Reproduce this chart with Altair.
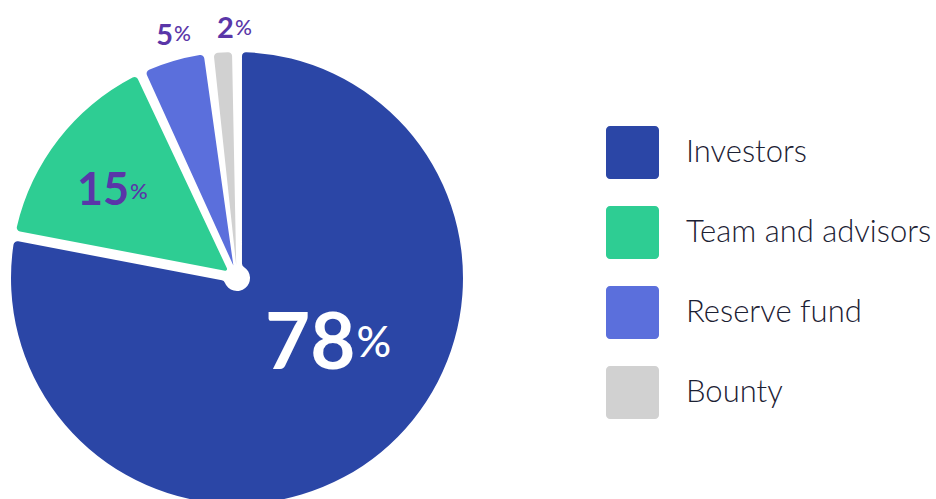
import altair as alt
import pandas as pd

# ---- data ----
categories = ["Investors", "Team and advisors", "Reserve fund", "Bounty"]
shares = [78, 15, 5, 2]
number_labels = ["78", "15", "5", "2"]
colors = ["#2b46a6", "#2ecd93", "#5b6fdc", "#d1d1d1"]

df = pd.DataFrame({"category": categories, "share": shares, "num": number_labels})

CX, CY = 237, 278
PURPLE = "#5a36a8"

rounded_square = ("M-1,-0.85 C-1,-0.93 -0.93,-1 -0.85,-1 L0.85,-1 C0.93,-1 1,-0.93 1,-0.85 "
                  "L1,0.85 C1,0.93 0.93,1 0.85,1 L-0.85,1 C-0.93,1 -1,0.93 -1,0.85 Z")

base = alt.Chart(df).encode(
    theta=alt.Theta("share:Q", stack=True),
    order=alt.Order("share:Q", sort="descending"),
    x=alt.value(CX),
    y=alt.value(CY),
)

pie = base.mark_arc(
    outerRadius=226, innerRadius=13, padAngle=0.044, cornerRadius=4, clip=True
).encode(
    color=alt.Color(
        "category:N",
        scale=alt.Scale(domain=categories, range=colors),
        legend=alt.Legend(
            title=None, orient="none", legendX=606, legendY=126, padding=0,
            symbolType=rounded_square, symbolSize=2809, symbolStrokeWidth=0,
            symbolOpacity=1, labelFont="Lato", labelFontSize=31, labelFontWeight=300,
            labelColor="#1c2133", labelOffset=27, rowPadding=27, labelLimit=400,
        ),
    )
)


def label_pair(cat, radius, dx, dy, num_size, pct_size, pct_dy, color):
    pred = alt.datum.category == cat
    num = base.mark_text(
        radius=radius, dx=dx, dy=dy, align="right", baseline="alphabetic",
        font="Lato", fontWeight=700, fontSize=num_size, color=color,
    ).encode(
        detail="category:N",
        text=alt.condition(pred, alt.Text("num:N"), alt.value("")),
    )
    pct = base.mark_text(
        radius=radius, dx=dx + 1, dy=dy + pct_dy, align="left", baseline="alphabetic",
        font="Lato", fontWeight=500, fontSize=pct_size, color=color,
    ).encode(
        detail="category:N",
        text=alt.condition(pred, alt.value("%"), alt.value("")),
    )
    return [num, pct]


layers = [pie]
layers += label_pair("Investors", 120, 42, -1.5, 78, 43, -12, "#ffffff")
layers += label_pair("Team and advisors", 134, -2, 9, 45, 22, -6, PURPLE)
layers += label_pair("Reserve fund", 242, 3.5, -0.6, 29, 21, -4, PURPLE)
layers += label_pair("Bounty", 240, 12, -0.5, 29, 21, -3, PURPLE)

chart = alt.layer(*layers).properties(
    width=936, height=499, padding=0, autosize="none"
).configure_view(stroke=None)

chart.save("out.html", embed_options={"renderer": "svg", "actions": False})
